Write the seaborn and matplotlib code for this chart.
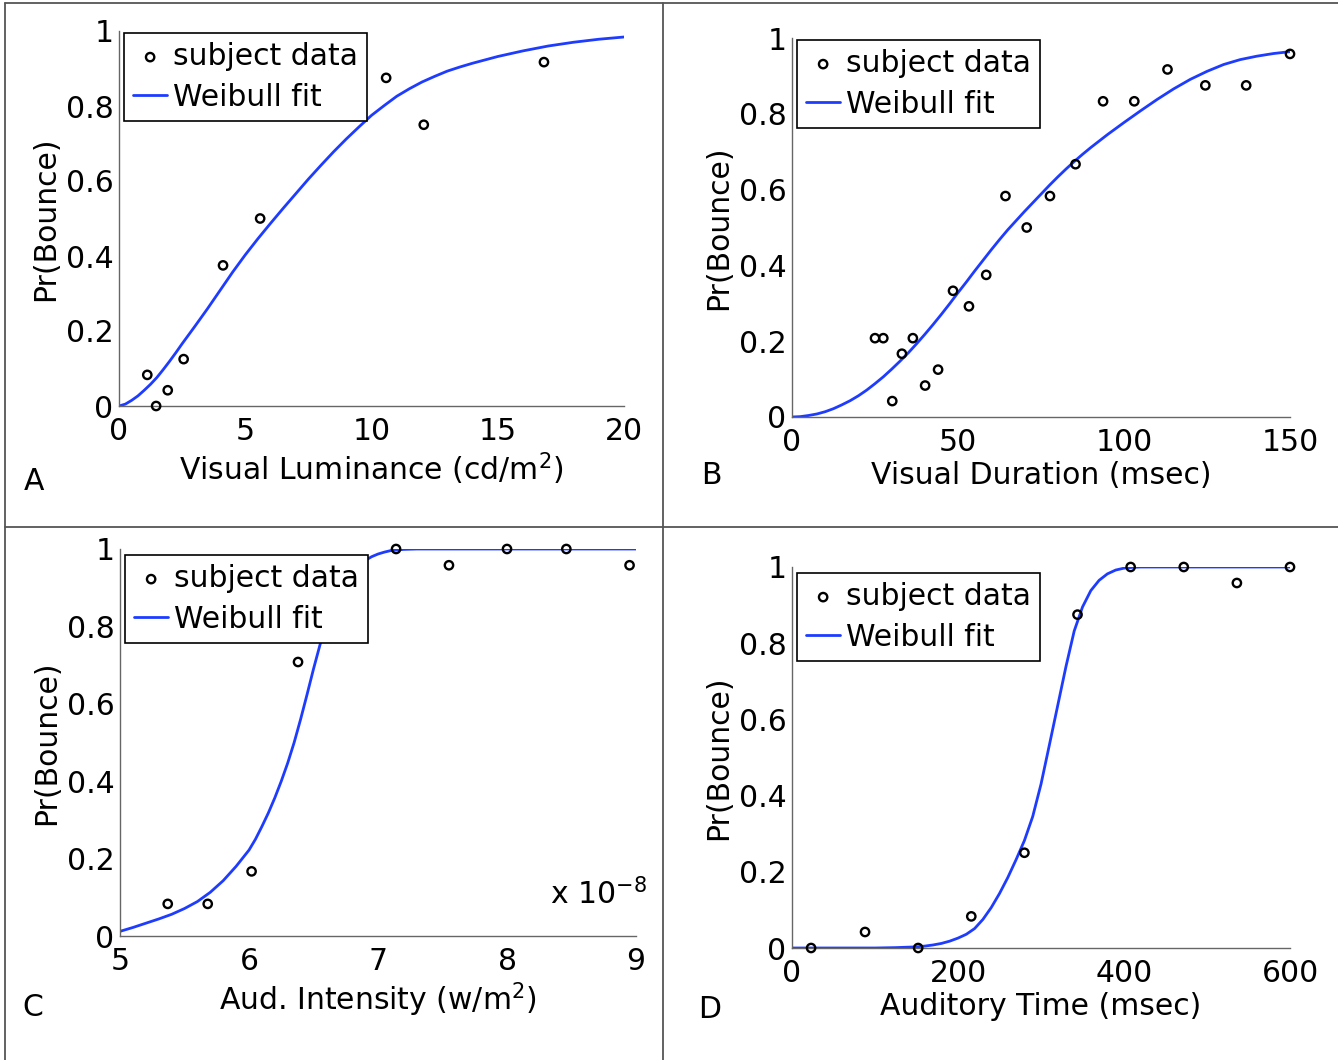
import matplotlib
matplotlib.use("Agg")
import matplotlib.pyplot as plt
from matplotlib.lines import Line2D
import seaborn as sns

# Panel A: visual luminance
lum_x = [1.12, 1.47, 1.93, 2.56, 4.12, 5.59, 10.58, 12.07, 16.83]
lum_y = [0.083, 0.0, 0.042, 0.125, 0.375, 0.5, 0.875, 0.75, 0.917]
lum_fit_x = [0, 0.25, 0.5, 0.75, 1, 1.25, 1.5, 1.75, 2, 2.25, 2.5, 3, 3.5, 4,
             4.5, 5, 5.5, 6, 6.5, 7, 7.5, 8, 8.5, 9, 9.5, 10, 10.5, 11, 11.5,
             12, 12.5, 13, 13.5, 14, 14.5, 15, 16, 17, 18, 19, 20]
lum_fit_y = [0, 0.005, 0.015, 0.027, 0.042, 0.058, 0.076, 0.097, 0.119, 0.142,
             0.166, 0.212, 0.259, 0.308, 0.357, 0.403, 0.446, 0.487, 0.527,
             0.566, 0.605, 0.642, 0.678, 0.712, 0.744, 0.775, 0.801, 0.826,
             0.846, 0.864, 0.879, 0.893, 0.904, 0.914, 0.923, 0.932, 0.947,
             0.960, 0.970, 0.978, 0.984]

# Panel B: visual duration
dur_x = [25, 27.5, 30.2, 33.1, 36.4, 40.1, 44.0, 48.5, 53.3, 58.5, 64.3, 70.7,
         77.7, 85.4, 93.7, 103.1, 113.1, 124.5, 136.8, 150]
dur_y = [0.208, 0.208, 0.042, 0.167, 0.208, 0.083, 0.125, 0.333, 0.292, 0.375,
         0.583, 0.5, 0.583, 0.667, 0.833, 0.833, 0.917, 0.875, 0.875, 0.958]
dur_fit_x = [0, 2.5, 5, 7.5, 10, 12.5, 15, 17.5, 20, 22.5, 25, 27.5, 30, 32.5,
             35, 37.5, 40, 42.5, 45, 47.5, 50, 52.5, 55, 57.5, 60, 62.5, 65,
             67.5, 70, 72.5, 75, 77.5, 80, 82.5, 85, 87.5, 90, 92.5, 95, 97.5,
             100, 105, 110, 115, 120, 125, 130, 135, 140, 145, 150]
dur_fit_y = [0, 0.001, 0.004, 0.008, 0.014, 0.022, 0.032, 0.043, 0.056, 0.071,
             0.088, 0.106, 0.126, 0.147, 0.169, 0.193, 0.218, 0.244, 0.271,
             0.299, 0.328, 0.356, 0.385, 0.413, 0.441, 0.468, 0.494, 0.518,
             0.542, 0.565, 0.588, 0.611, 0.633, 0.654, 0.674, 0.693, 0.711,
             0.728, 0.745, 0.761, 0.777, 0.808, 0.838, 0.866, 0.891, 0.912,
             0.930, 0.943, 0.952, 0.959, 0.964]

# Panel C: auditory intensity (units of 1e-8 w/m^2)
aud_x = [5.37, 5.68, 6.02, 6.38, 7.14, 7.55, 8.0, 8.46, 8.95]
aud_y = [0.083, 0.083, 0.167, 0.708, 1.0, 0.958, 1.0, 1.0, 0.958]
aud_fit_x = [5.0, 5.1, 5.2, 5.3, 5.4, 5.5, 5.6, 5.7, 5.8, 5.9, 6.0, 6.05, 6.1,
             6.15, 6.2, 6.25, 6.3, 6.35, 6.4, 6.45, 6.5, 6.55, 6.6, 6.65, 6.7,
             6.75, 6.8, 6.85, 6.9, 6.95, 7.0, 7.05, 7.1, 7.2, 7.3, 9.0]
aud_fit_y = [0.012, 0.022, 0.033, 0.044, 0.056, 0.071, 0.089, 0.113, 0.143,
             0.180, 0.222, 0.250, 0.283, 0.318, 0.357, 0.400, 0.447, 0.500,
             0.560, 0.624, 0.690, 0.752, 0.806, 0.852, 0.890, 0.920, 0.943,
             0.958, 0.970, 0.980, 0.987, 0.992, 0.996, 0.999, 1.0, 1.0]

# Panel D: auditory time
time_x = [23, 88, 152, 216, 280, 344, 408, 472, 536, 600]
time_y = [0.0, 0.042, 0.0, 0.083, 0.25, 0.875, 1.0, 1.0, 0.958, 1.0]
time_fit_x = [0, 50, 100, 125, 150, 160, 170, 180, 190, 200, 210, 220, 230,
              240, 250, 260, 270, 280, 290, 300, 310, 320, 330, 340, 350, 360,
              370, 380, 390, 400, 410, 420, 600]
time_fit_y = [0, 0, 0, 0.001, 0.003, 0.005, 0.008, 0.012, 0.018, 0.026, 0.036,
              0.051, 0.075, 0.106, 0.143, 0.185, 0.232, 0.282, 0.345, 0.430,
              0.532, 0.635, 0.738, 0.832, 0.895, 0.938, 0.965, 0.982, 0.992,
              0.997, 0.999, 1.0, 1.0]

y_ticks = [0, 0.2, 0.4, 0.6, 0.8, 1]
y_labels = ["0", "0.2", "0.4", "0.6", "0.8", "1"]

W, H = 1338, 1060
FS = 21.5
AX_GRAY = "#666666"
FIT_BLUE = "#1e3cff"

sns.set_theme(style="white")
plt.rcParams["font.family"] = ["DejaVu Sans"]
plt.rcParams["mathtext.default"] = "regular"
plt.rcParams["text.color"] = "black"
plt.rcParams["axes.labelcolor"] = "black"
plt.rcParams["xtick.color"] = "black"
plt.rcParams["ytick.color"] = "black"


def rect(l, t, r, b):
    return [l / W, 1 - b / H, (r - l) / W, (b - t) / H]


panels = [
    dict(rect=rect(119, 31, 624, 406), x=lum_x, y=lum_y, fx=lum_fit_x, fy=lum_fit_y,
         xlim=(0, 20), xticks=[0, 5, 10, 15, 20],
         xlabel="Visual Luminance (cd/m$^2$)", leg=(124, 33), letter="A", lpos=(24, 481)),
    dict(rect=rect(792, 38, 1290, 417), x=dur_x, y=dur_y, fx=dur_fit_x, fy=dur_fit_y,
         xlim=(0, 150), xticks=[0, 50, 100, 150],
         xlabel="Visual Duration (msec)", leg=(797, 40), letter="B", lpos=(701, 476)),
    dict(rect=rect(120, 549, 636, 936), x=aud_x, y=aud_y, fx=aud_fit_x, fy=aud_fit_y,
         xlim=(5, 9), xticks=[5, 6, 7, 8, 9],
         xlabel="Aud. Intensity (w/m$^2$)", leg=(125, 555), letter="C", lpos=(22, 1008)),
    dict(rect=rect(792, 567, 1290, 948), x=time_x, y=time_y, fx=time_fit_x, fy=time_fit_y,
         xlim=(0, 600), xticks=[0, 200, 400, 600],
         xlabel="Auditory Time (msec)", leg=(797, 573), letter="D", lpos=(698, 1009)),
]

fig = plt.figure(figsize=(W / 100, H / 100), dpi=100)

for p in panels:
    ax = fig.add_axes(p["rect"])
    sns.scatterplot(x=p["x"], y=p["y"], ax=ax, marker="o", s=36, fc="none",
                    ec="black", linewidth=1.7, clip_on=False, zorder=3,
                    label="subject data")
    sns.lineplot(x=p["fx"], y=p["fy"], ax=ax, color=FIT_BLUE, linewidth=2,
                 errorbar=None, label="Weibull fit")
    ax.set_xlim(*p["xlim"])
    ax.set_ylim(0, 1)
    ax.set_xticks(p["xticks"])
    ax.set_xticklabels([str(t) for t in p["xticks"]])
    ax.set_yticks(y_ticks)
    ax.set_yticklabels(y_labels)
    for side in ["top", "right"]:
        ax.spines[side].set_visible(False)
    for side in ["left", "bottom"]:
        ax.spines[side].set_color(AX_GRAY)
        ax.spines[side].set_linewidth(1.0)
    ax.tick_params(direction="in", length=5, width=1, color=AX_GRAY,
                   labelsize=FS, labelcolor="black")
    ax.tick_params(axis="x", pad=8)
    ax.tick_params(axis="y", pad=4)
    ax.set_xlabel(p["xlabel"], fontsize=FS, labelpad=3, color="black")
    ax.set_ylabel("Pr(Bounce)", fontsize=FS, labelpad=4, color="black")
    lx, ly = p["leg"]
    leg = ax.legend(loc="upper left", bbox_to_anchor=(lx / W, 1 - ly / H),
                    bbox_transform=fig.transFigure, borderaxespad=0,
                    fontsize=FS, frameon=True, fancybox=False, framealpha=1,
                    edgecolor="black", borderpad=0.3, labelspacing=0.4,
                    handlelength=1.15, handletextpad=0.2)
    leg.get_frame().set_linewidth(1.2)
    for t in leg.get_texts():
        t.set_color("black")
    fig.text(p["lpos"][0] / W, 1 - p["lpos"][1] / H, p["letter"], fontsize=FS,
             ha="left", va="center", color="black")
    if p["letter"] == "C":
        ax.text(1.02, 0.065, "x 10$^{-8}$", transform=ax.transAxes, fontsize=FS,
                ha="right", va="bottom", color="black")

# panel frame lines
frame = [((5, 3), (1338, 3)), ((5, 3), (5, 1060)), ((663, 3), (663, 1060)),
         ((5, 527), (1338, 527))]
for (x0, y0), (x1, y1) in frame:
    fig.add_artist(Line2D([x0 / W, x1 / W], [1 - y0 / H, 1 - y1 / H],
                          transform=fig.transFigure, color="#555555", lw=1.3))

fig.savefig("out.png", dpi=100)
